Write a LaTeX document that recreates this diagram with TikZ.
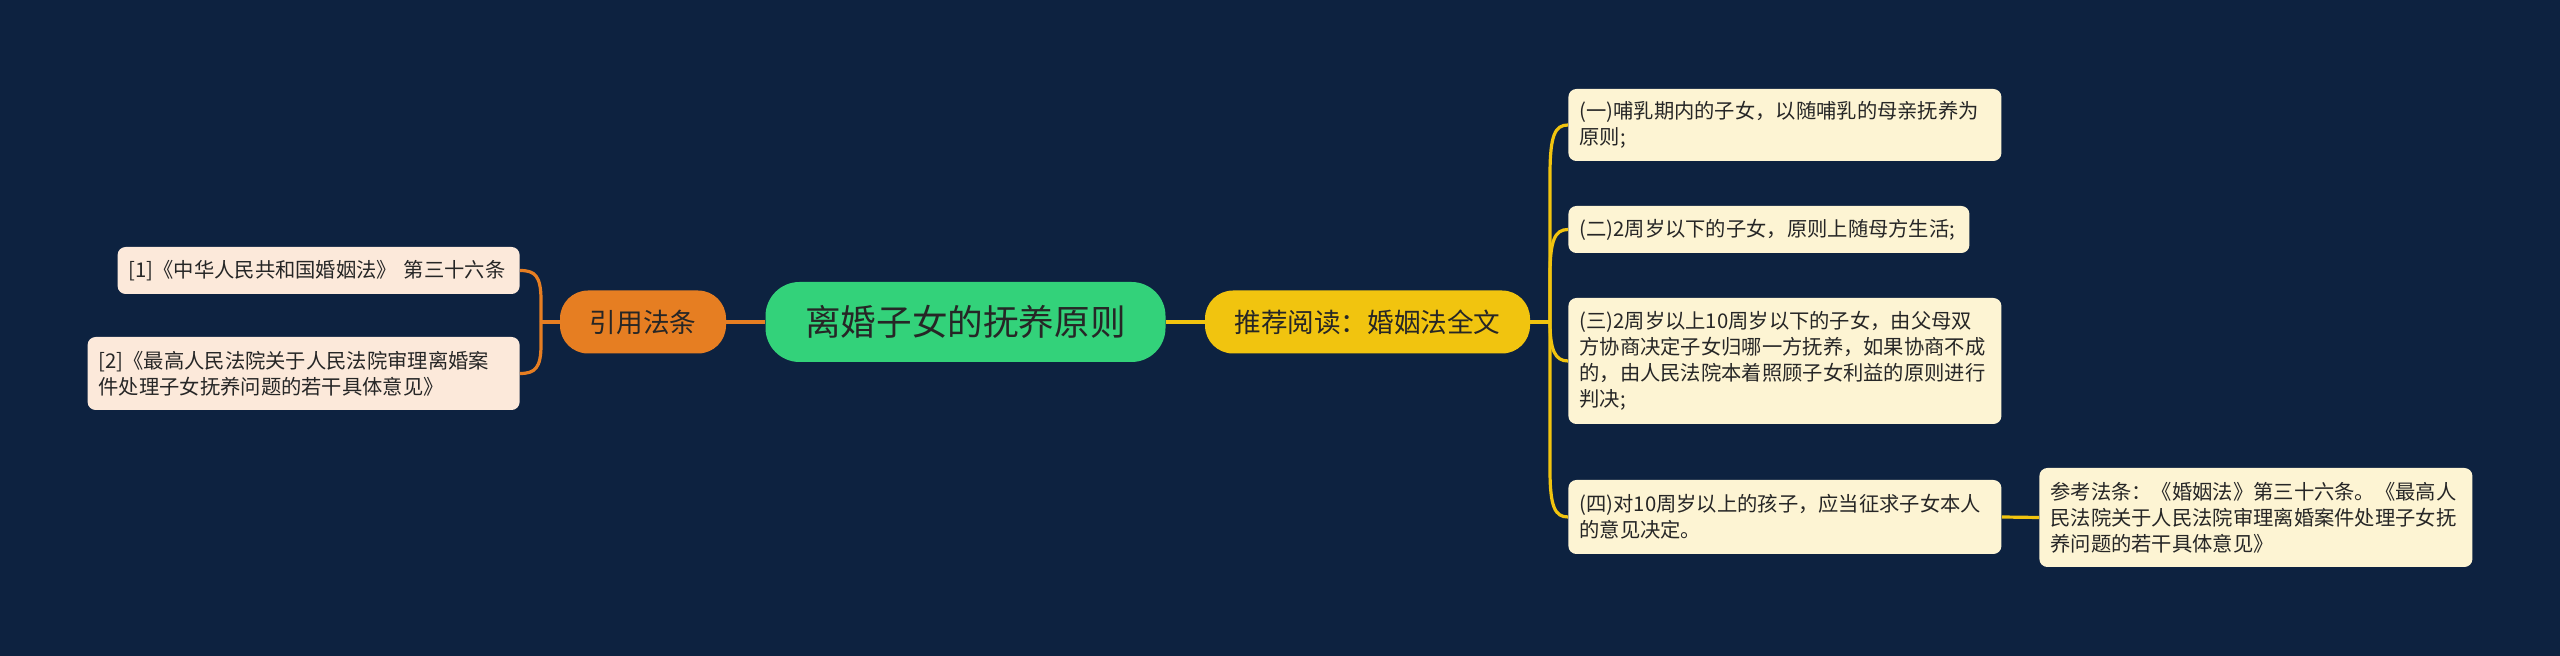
\documentclass[tikz,border=0pt]{standalone}
\usepackage{fontspec}
\newfontfamily\cjk{Noto Sans CJK SC}
\definecolor{bg}{HTML}{0D2240}
\definecolor{cgreen}{HTML}{33D27A}
\definecolor{corange}{HTML}{E67E22}
\definecolor{cyellow}{HTML}{F1C40F}
\definecolor{lfill}{HTML}{FCE9DA}
\definecolor{rfill}{HTML}{FDF4D3}
\definecolor{ink}{HTML}{262626}
\tikzset{
  mainnode/.style={fill=cgreen, rounded corners=17pt, minimum width=200pt, minimum height=40pt, inner sep=0pt, text=ink, font=\cjk\fontsize{17.8}{21}\selectfont},
  onode/.style={fill=corange, rounded corners=14pt, minimum height=31.5pt, inner sep=0pt, text=ink, font=\cjk\fontsize{13.3}{16}\selectfont},
  ynode/.style={fill=cyellow, rounded corners=14pt, minimum height=31.5pt, inner sep=0pt, text=ink, font=\cjk\fontsize{13.3}{16}\selectfont},
  leaf/.style={rounded corners=4pt, inner xsep=5.5pt, inner ysep=0pt, align=left, text=ink, font=\cjk\fontsize{10.15}{13}\selectfont},
  lbox/.style={leaf, fill=lfill},
  rbox/.style={leaf, fill=rfill},
  yl/.style={draw=cyellow, line width=1.6pt},
  ol/.style={draw=corange, line width=1.6pt},
}
\begin{document}
\begin{tikzpicture}[x=0.5pt,y=-0.5pt]
\fill[bg] (0,0) rectangle (2560,656);
\useasboundingbox (0,0) rectangle (2560,656);

\node[mainnode] (c) at (965.5,322) {离婚子女的抚养原则};
\node[onode, minimum width=83pt] (o) at (643,322) {引用法条};
\node[ynode, minimum width=162.5pt] (y) at (1367.5,322) {推荐阅读：婚姻法全文};

\node[lbox, anchor=east, text width=190pt, minimum height=23.5pt] (l1) at (520,270.5) {[1]《中华人民共和国婚姻法》 第三十六条};
\node[lbox, anchor=east, text width=205pt, minimum height=36.5pt] (l2) at (520,373.5) {[2]《最高人民法院关于人民法院审理离婚案\\件处理子女抚养问题的若干具体意见》};

\node[rbox, anchor=west, text width=205.5pt, minimum height=36pt] (r1) at (1568,125) {(一)哺乳期内的子女，以随哺乳的母亲抚养为\\原则;};
\node[rbox, anchor=west, text width=189.5pt, minimum height=23.5pt] (r2) at (1568,229.5) {(二)2周岁以下的子女，原则上随母方生活;};
\node[rbox, anchor=west, text width=205.5pt, minimum height=63pt] (r3) at (1568,361) {(三)2周岁以上10周岁以下的子女，由父母双\\方协商决定子女归哪一方抚养，如果协商不成\\的，由人民法院本着照顾子女利益的原则进行\\判决;};
\node[rbox, anchor=west, text width=205.5pt, minimum height=37pt] (r4) at (1568,517) {(四)对10周岁以上的孩子，应当征求子女本人\\的意见决定。};
\node[rbox, anchor=west, text width=205.5pt, minimum height=49.5pt] (f) at (2039,517.5) {参考法条：《婚姻法》第三十六条。《最高人\\民法院关于人民法院审理离婚案件处理子女抚\\养问题的若干具体意见》};

% connectors
\draw[ol] (o.east) -- (c.west);
\draw[yl] (c.east) -- (y.west);

\coordinate (ls) at (541,322);
\draw[ol] (o.west) -- (ls);
\draw[ol] (ls) -- (541,300) .. controls (541,276) and (535,270.5) .. (l1.east);
\draw[ol] (ls) -- (541,345) .. controls (541,368) and (535,373.5) .. (l2.east);

\coordinate (rs) at (1550,322);
\draw[yl] (y.east) -- (rs);
\draw[yl] (rs) -- (1550,175) .. controls (1550,135) and (1555,125) .. (r1.west);
\draw[yl] (rs) -- (1550,275) .. controls (1550,240) and (1555,229.5) .. (r2.west);
\draw[yl] (rs) .. controls (1550,350) and (1555,361) .. (r3.west);
\draw[yl] (rs) -- (1550,470) .. controls (1550,507) and (1555,517) .. (r4.west);
\draw[yl] (r4.east) -- (f.west);
\end{tikzpicture}
\end{document}
